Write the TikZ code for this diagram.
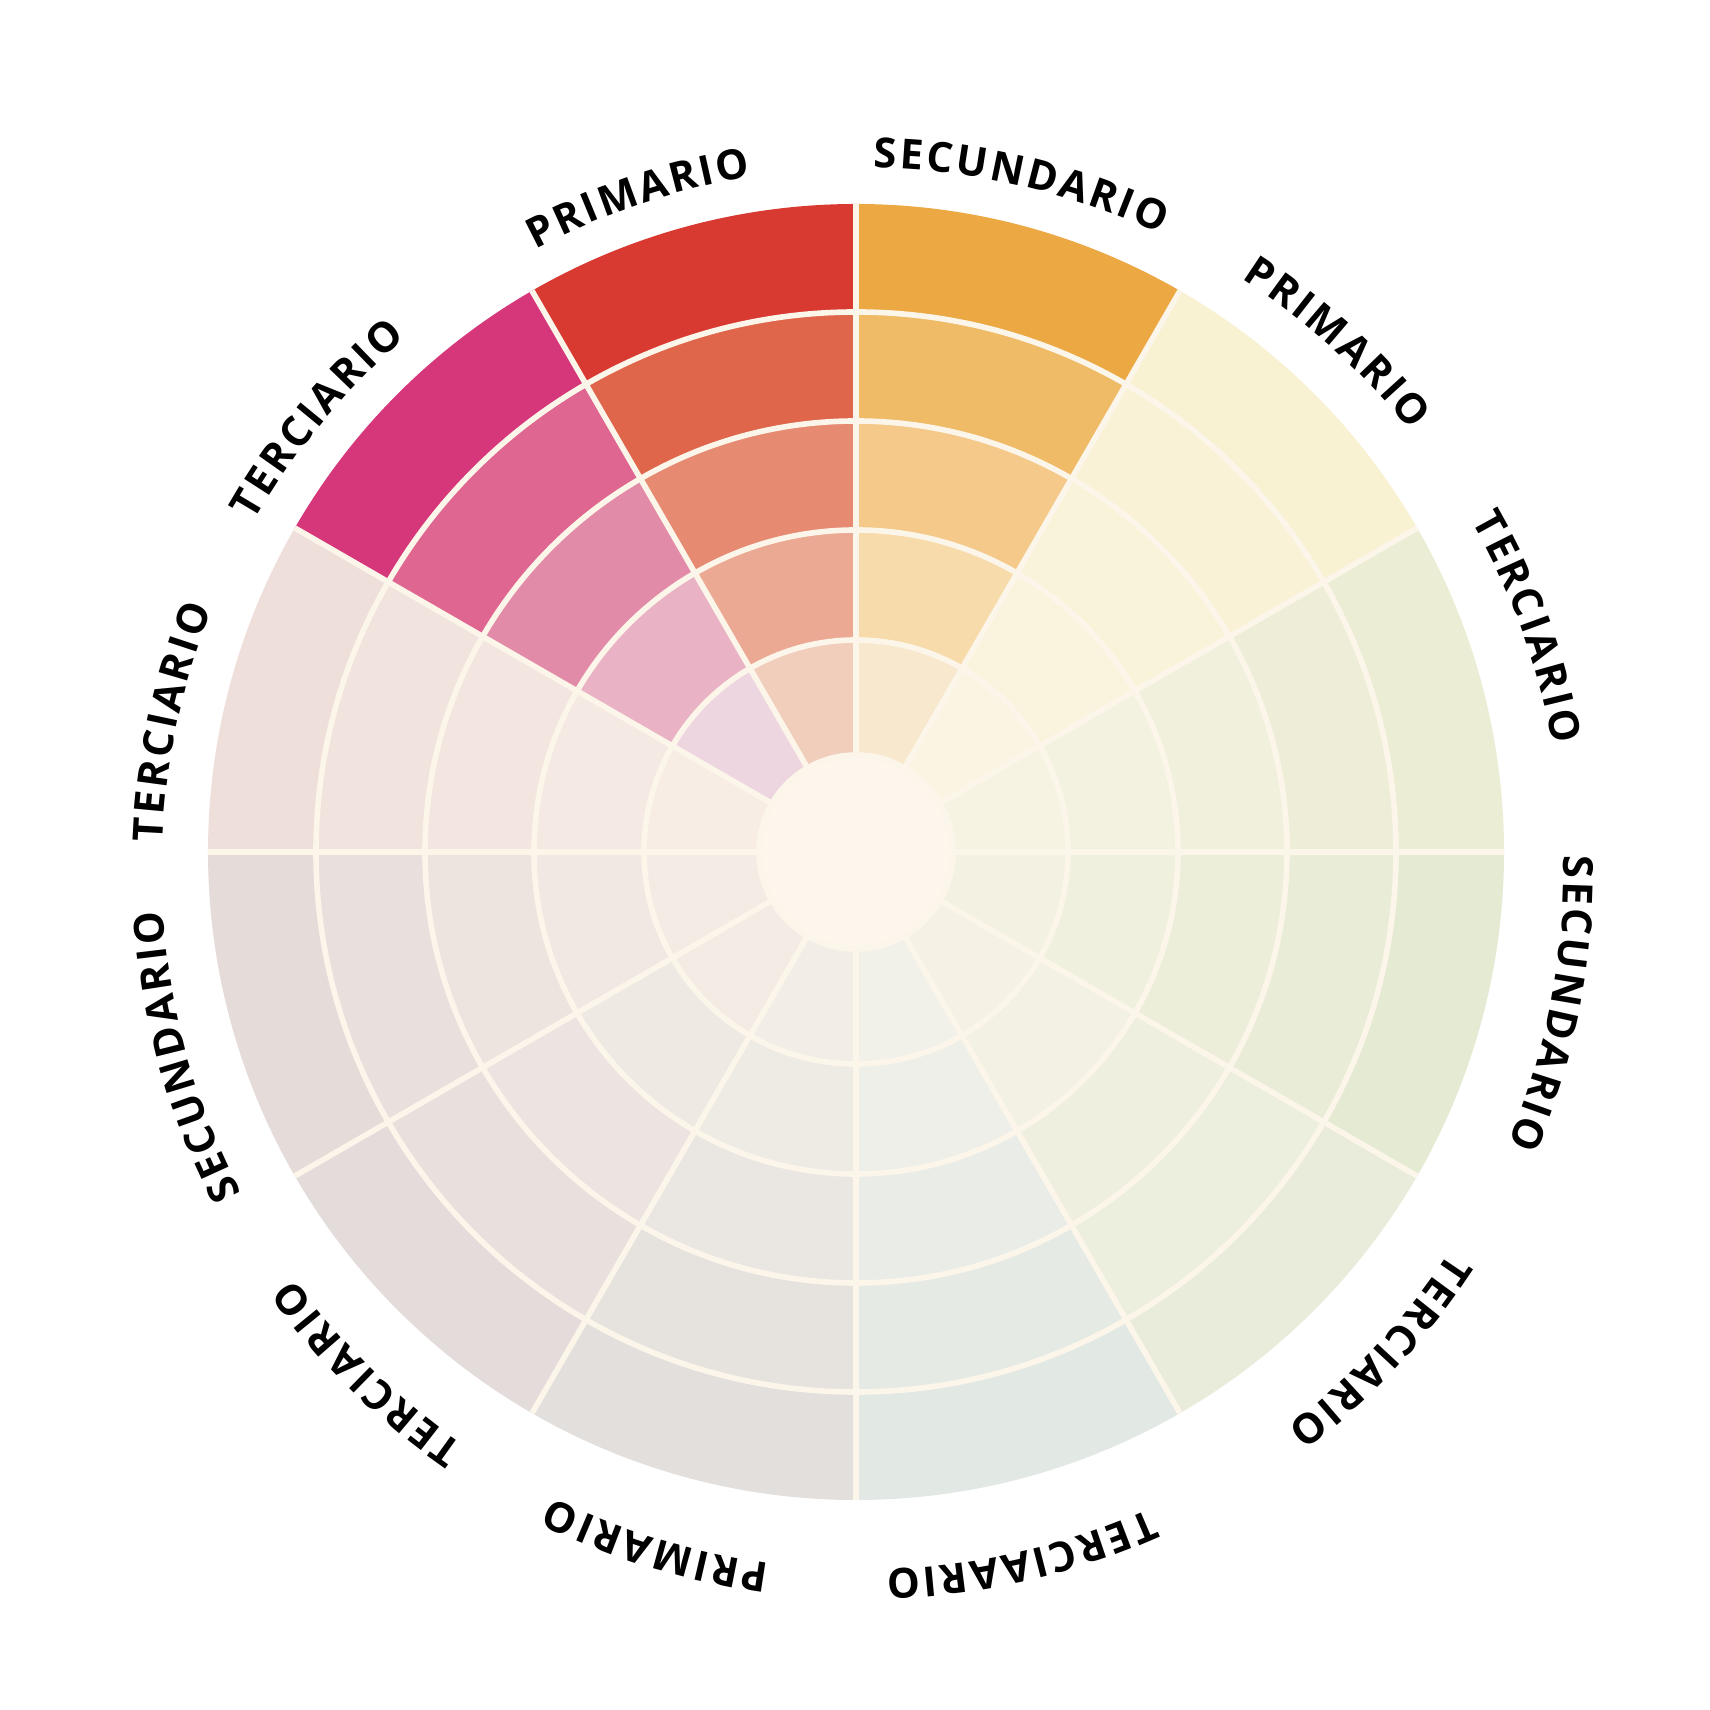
\documentclass[tikz,border=0pt]{standalone}
\usepackage{fontspec}
\usepackage{xcolor}
\usepackage{tikz}
\newfontfamily\lblfont{Open Sans}
\newcommand\lblsize{\lblfont\bfseries\fontsize{11.8pt}{14pt}\selectfont}
\definecolor{wheelcore}{HTML}{FCF6EC}
\definecolor{sepcream}{HTML}{FCF5E9}
\definecolor{ochre1}{HTML}{EBA843}
\definecolor{ochre2}{HTML}{F0BB66}
\definecolor{ochre3}{HTML}{F4C98A}
\definecolor{ochre4}{HTML}{F7DBAB}
\definecolor{ochre5}{HTML}{F8E8CE}
\definecolor{scarlet1}{HTML}{D83A32}
\definecolor{scarlet2}{HTML}{DF654B}
\definecolor{scarlet3}{HTML}{E68A71}
\definecolor{scarlet4}{HTML}{EBA993}
\definecolor{scarlet5}{HTML}{F1CDBC}
\definecolor{berry1}{HTML}{D6367A}
\definecolor{berry2}{HTML}{DE6690}
\definecolor{berry3}{HTML}{E28BA8}
\definecolor{berry4}{HTML}{E9B3C5}
\definecolor{berry5}{HTML}{EED6E0}
\definecolor{paleA}{HTML}{F8F1D2}
\definecolor{paleB}{HTML}{EBEDD4}
\definecolor{paleC}{HTML}{E5EAD2}
\definecolor{paleD}{HTML}{E9ECDB}
\definecolor{paleE}{HTML}{E2E8E4}
\definecolor{paleF}{HTML}{E2DFDC}
\definecolor{paleG}{HTML}{E4DCDA}
\definecolor{paleH}{HTML}{E5DBD9}
\definecolor{paleI}{HTML}{EFDFDB}
\tikzset{
  sep/.style={draw=sepcream, line width=1.6pt},
  lbltext/.style={font=\lblsize, text=black, inner sep=0pt, anchor=base}
}
% letters of a word set one by one on an arc, clockwise
\newdimen\lblchw
\newdimen\lbltotd
\newdimen\lblposd
\newcommand\lbltrack{0.8pt}
\newcommand\lblrpt{199.45}
\newcommand\lblmeasure[1]{%
  \setbox0=\hbox{\pgfinterruptpicture\lblsize#1\endpgfinterruptpicture}%
  \global\lblchw=\wd0 }
\newcommand\arcword[2]{%
  \edef\lblletters{#2}%
  \global\lbltotd=-\lbltrack
  \foreach \ch in \lblletters {%
    \lblmeasure{\ch}%
    \global\advance\lbltotd by \lblchw
    \global\advance\lbltotd by \lbltrack
  }%
  \global\lblposd=0pt
  \foreach \ch [count=\i] in \lblletters {%
    \lblmeasure{\ch}%
    \pgfmathsetmacro\lblang{#1+deg((0.5*\the\lbltotd-\the\lblposd-0.5*\the\lblchw)/\lblrpt)}%
    \node[lbltext, rotate=\lblang-90] (wl-#1-\i) at (\lblang:701) {\ch};
    \global\advance\lblposd by \lblchw
    \global\advance\lblposd by \lbltrack
  }%
}

\begin{document}
\begin{tikzpicture}[x=0.01cm, y=0.01cm]
  \useasboundingbox[fill=white] (-856,-858) rectangle (854,852);

  % pale sectors, lighter towards the middle
  \foreach \a/\col in {0/paleB, 30/paleA, 150/paleI, 180/paleH, 210/paleG,
                       240/paleF, 270/paleE, 300/paleD, 330/paleC}{
    \foreach \ri/\ro/\p in {540/648/100, 431/540/84, 322/431/68, 212/322/52, 97/212/38}{
      \fill[\col!\p!wheelcore] (\a:\ro) arc[start angle=\a, end angle=\a+30, radius=\ro]
        -- ({\a+30}:\ri) arc[start angle=\a+30, end angle=\a, radius=\ri] -- cycle;
    }
  }
  % the three coloured sectors
  \foreach \a/\col in {60/ochre, 90/scarlet, 120/berry}{
    \foreach \k/\ri/\ro in {1/540/648, 2/431/540, 3/322/431, 4/212/322, 5/97/212}{
      \fill[\col\k] (\a:\ro) arc[start angle=\a, end angle=\a+30, radius=\ro]
        -- ({\a+30}:\ri) arc[start angle=\a+30, end angle=\a, radius=\ri] -- cycle;
    }
  }
  \fill[wheelcore] (0,0) circle[radius=97];

  % separators
  \foreach \r in {97,212,322,431,540}
    \draw[sep] (0,0) circle[radius=\r];
  \foreach \a in {0,30,...,330}
    \draw[sep] (\a:97) -- (\a:648);

  % labels
  \begin{scope}[shift={(7,-17)}]
    \foreach \ang/\word in {77/{S,E,C,U,N,D,A,R,I,O}, 108.5/{P,R,I,M,A,R,I,O},
        140.5/{T,E,R,C,I,A,R,I,O}, 168/{T,E,R,C,I,A,R,I,O},
        195.5/{S,E,C,U,N,D,A,R,I,O}, 225.5/{T,E,R,C,I,A,R,I,O},
        253/{P,R,I,M,A,R,I,O}, 283/{T,E,R,C,I,A,A,R,I,O},
        317/{T,E,R,C,I,A,R,I,O}, 349/{S,E,C,U,N,D,A,R,I,O},
        20/{T,E,R,C,I,A,R,I,O}, 48/{P,R,I,M,A,R,I,O}}
      \arcword{\ang}{\word};
  \end{scope}
\end{tikzpicture}
\end{document}
